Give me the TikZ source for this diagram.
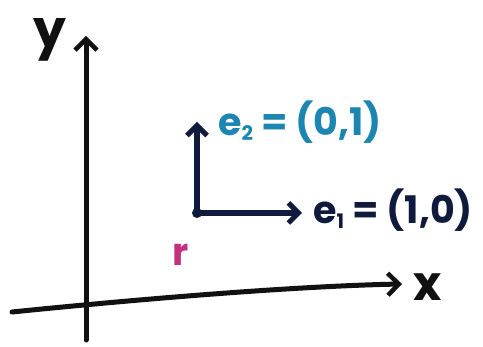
\documentclass[tikz,border=0pt]{standalone}
\usepackage{fontspec}
\setmainfont{Poppins}
\usetikzlibrary{arrows.meta}
\definecolor{ink}{HTML}{111111}
\definecolor{navy}{HTML}{0F1A3C}
\definecolor{teal}{HTML}{1C86B0}
\definecolor{pinkr}{HTML}{C2307E}
\newcommand{\subidx}[1]{\raisebox{-5pt}{\fontsize{20}{20}\selectfont #1}}
\tikzset{
  axis/.style={draw=ink, line width=5pt, line cap=round, -{Straight Barb[length=11pt,width=22pt,line width=4.5pt]}},
  vec/.style={draw=navy, line width=6pt, line cap=round, -{Straight Barb[length=10pt,width=20pt,line width=5pt]}},
  lbl/.style={inner sep=0pt, font=\fontsize{38}{40}\selectfont\bfseries},
}
\begin{document}
\begin{tikzpicture}[x=1pt,y=-1pt]
\useasboundingbox (0,0) rectangle (483,347);
\fill[white] (0,0) rectangle (483,347);
% axes
\coordinate (ybot) at (86,340);
\coordinate (ytop) at (86,36);
\coordinate (xl) at (12,312);
\coordinate (xr) at (402,284);
\draw[axis] (ybot) -- (ytop);
\draw[axis] (xl) .. controls (150,298) and (300,286) .. (xr);
\node[lbl, text=ink, font=\fontsize{52}{54}\selectfont\bfseries] (ylab) at (50,40) {y};
\node[lbl, text=ink, font=\fontsize{48}{50}\selectfont\bfseries] (xlab) at (428,287) {x};
% basis vectors
\coordinate (r) at (197,213);
\coordinate (e1) at (302,213);
\coordinate (e2) at (197,122);
\fill[navy] (r) circle (5pt);
\draw[vec] (r) -- (e1);
\draw[vec] (r) -- (e2);
\node[lbl, text=navy, anchor=west] (e1lab) at (313,210) {e\subidx{1} = (1,0)};
\node[lbl, text=teal, anchor=west] (e2lab) at (218,122) {e\subidx{2} = (0,1)};
\node[lbl, text=pinkr] (rlab) at (181,255) {r};
\end{tikzpicture}
\end{document}
